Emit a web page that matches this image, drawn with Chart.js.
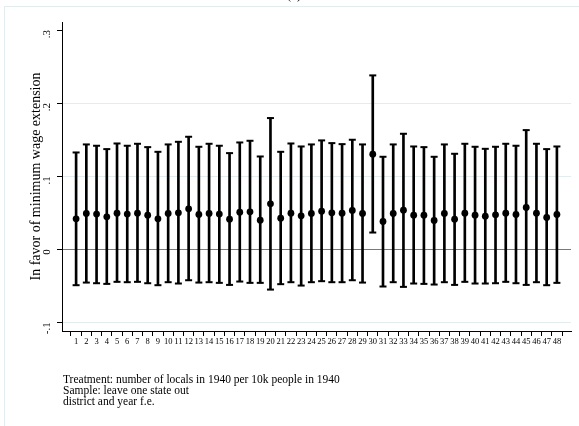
<!DOCTYPE html>
<html>
<head>
<meta charset="utf-8">
<script src="https://cdn.jsdelivr.net/npm/chart.js@4"></script>
<style>
html,body{margin:0;padding:0;background:#fff;}
#wrap{width:579px;height:426px;position:relative;}
</style>
</head>
<body>
<div id="wrap"><canvas id="c" width="579" height="426"></canvas></div>
<script>
// ---- data ----
const categories = [1,2,3,4,5,6,7,8,9,10,11,12,13,14,15,16,17,18,19,20,21,22,23,24,25,26,27,28,29,30,31,32,33,34,35,36,37,38,39,40,41,42,43,44,45,46,47,48];
const estimate = [0.0416,0.0489,0.0480,0.0443,0.0493,0.0480,0.0493,0.0466,0.0416,0.0489,0.0498,0.0553,0.0475,0.0489,0.0480,0.0411,0.0507,0.0511,0.0397,0.0621,0.0425,0.0493,0.0457,0.0489,0.0521,0.0498,0.0493,0.0530,0.0489,0.1301,0.0379,0.0489,0.0534,0.0466,0.0466,0.0393,0.0489,0.0411,0.0493,0.0466,0.0452,0.0470,0.0493,0.0475,0.0571,0.0493,0.0434,0.0475];
const upper = [0.1324,0.1434,0.1416,0.1370,0.1447,0.1416,0.1443,0.1397,0.1333,0.1434,0.1470,0.1539,0.1402,0.1443,0.1416,0.1315,0.1461,0.1484,0.1269,0.1795,0.1333,0.1447,0.1406,0.1434,0.1489,0.1452,0.1438,0.1498,0.1434,0.2379,0.1265,0.1434,0.1580,0.1406,0.1397,0.1265,0.1434,0.1306,0.1443,0.1402,0.1374,0.1402,0.1443,0.1416,0.1630,0.1443,0.1370,0.1406];
const lower = [-0.0493,-0.0457,-0.0466,-0.0475,-0.0447,-0.0452,-0.0447,-0.0466,-0.0493,-0.0452,-0.0470,-0.0425,-0.0457,-0.0452,-0.0461,-0.0489,-0.0443,-0.0461,-0.0461,-0.0553,-0.0479,-0.0452,-0.0498,-0.0452,-0.0438,-0.0452,-0.0452,-0.0425,-0.0457,0.0228,-0.0511,-0.0452,-0.0516,-0.0470,-0.0475,-0.0484,-0.0452,-0.0489,-0.0447,-0.0470,-0.0470,-0.0466,-0.0447,-0.0466,-0.0489,-0.0452,-0.0493,-0.0461];
const yTickValues = [-0.1, 0, 0.1, 0.2, 0.3];
const yTickLabels = ['-.1', '0', '.1', '.2', '.3'];
const yTitle = 'In favor of minimum wage extension';
const panelTitle = '(a)';
const notes = ['Treatment: number of locals in 1940 per 10k people in 1940', 'Sample: leave one state out', 'district and year f.e.'];

const SERIF = '"Liberation Serif", "DejaVu Serif", serif';

const decor = {
  id: 'decor',
  beforeDraw(chart) {
    const ctx = chart.ctx;
    ctx.save();
    ctx.fillStyle = '#ffffff';
    ctx.fillRect(0, 0, chart.width, chart.height);
    ctx.strokeStyle = '#e3ecee';
    ctx.lineWidth = 1;
    ctx.strokeRect(4.5, 6.5, 700, 600);
    ctx.restore();
  },
  afterDraw(chart) {
    const ctx = chart.ctx;
    ctx.save();
    ctx.fillStyle = '#000';
    ctx.font = '13px ' + SERIF;
    ctx.textAlign = 'center';
    ctx.textBaseline = 'alphabetic';
    ctx.fillText(panelTitle, 294, -1);
    ctx.font = '11.5px ' + SERIF;
    ctx.textAlign = 'left';
    notes.forEach((t, i) => ctx.fillText(t, 63, 383 + i * 11));
    ctx.restore();
  }
};

new Chart(document.getElementById('c'), {
  data: {
    datasets: [
      {
        type: 'scatter',
        data: categories.map((c, i) => ({x: c, y: estimate[i]})),
        pointRadius: 3.4, pointHoverRadius: 3.4,
        backgroundColor: '#000', borderWidth: 0, order: 1
      },
      {
        type: 'scatter',
        data: categories.map((c, i) => ({x: c, y: upper[i]})),
        pointStyle: 'line', pointRadius: 3.5, pointHoverRadius: 3.5,
        borderColor: '#000', borderWidth: 2, order: 2
      },
      {
        type: 'scatter',
        data: categories.map((c, i) => ({x: c, y: lower[i]})),
        pointStyle: 'line', pointRadius: 3.5, pointHoverRadius: 3.5,
        borderColor: '#000', borderWidth: 2, order: 2
      },
      {
        type: 'bar',
        data: categories.map((c, i) => ({x: c, y: [lower[i], upper[i]]})),
        backgroundColor: '#000', borderWidth: 0, barThickness: 2, grouped: false, order: 3
      }
    ]
  },
  options: {
    responsive: false,
    animation: false,
    devicePixelRatio: 1,
    layout: {padding: {left: 0, right: 8, top: 22, bottom: 0}},
    plugins: {legend: {display: false}, tooltip: {enabled: false}, title: {display: false}},
    scales: {
      x: {
        type: 'linear', position: 'bottom',
        min: 0.14, max: 48.86,
        afterBuildTicks(s) { s.ticks = categories.map(v => ({value: v})); },
        afterFit(s) { s.height = 95; },
        ticks: {autoSkip: false, maxRotation: 0, minRotation: 0, padding: 1, color: '#000',
          font: {family: SERIF, size: 8.5}, callback: v => String(v)},
        grid: {drawOnChartArea: false, drawTicks: true, tickLength: 5, tickColor: '#000', tickWidth: 1},
        border: {display: true, color: '#000', width: 1}
      },
      y: {
        type: 'linear', position: 'left',
        min: -0.112, max: 0.311,
        afterBuildTicks(s) { s.ticks = yTickValues.map(v => ({value: v})); },
        afterFit(s) { s.width = 62; },
        ticks: {minRotation: 90, maxRotation: 90, padding: 10, color: '#000',
          font: {family: SERIF, size: 11},
          callback: v => { const k = yTickValues.findIndex(t => Math.abs(t - v) < 1e-9); return k >= 0 ? yTickLabels[k] : ''; }},
        grid: {
          drawOnChartArea: true, drawTicks: true, tickLength: 5, tickWidth: 1,
          color: c => { const v = c.tick ? c.tick.value : null; if (v === null) return 'transparent'; if (Math.abs(v) < 1e-9) return '#7a7a7a'; if (Math.abs(v - 0.3) < 1e-9) return 'transparent'; return '#e3ecee'; },
          tickColor: '#000'
        },
        border: {display: true, color: '#000', width: 1},
        title: {display: true, text: yTitle, color: '#000', font: {family: SERIF, size: 14}, padding: {top: 28, bottom: 0}}
      }
    }
  },
  plugins: [decor]
});
</script>
</body>
</html>
